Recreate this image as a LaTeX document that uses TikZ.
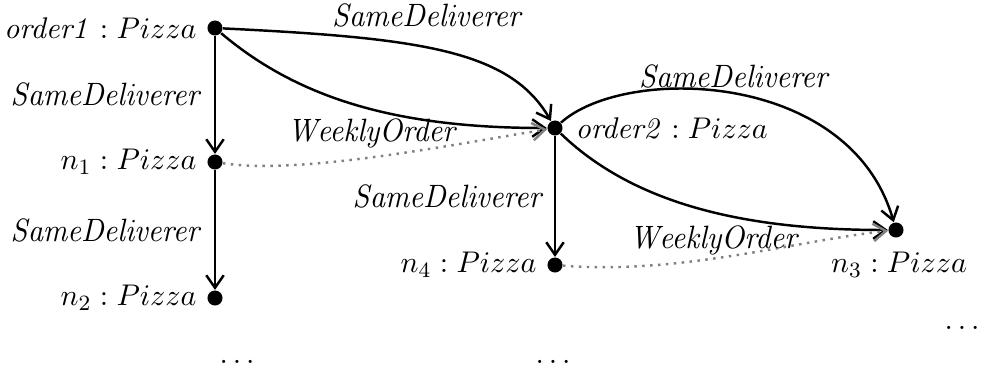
\documentclass[tikz,border=0pt]{standalone}
\usetikzlibrary{arrows.meta}
\newcommand{\nlab}[1]{{\fontsize{10.9pt}{13pt}\selectfont$#1$}}
\newcommand{\elab}[1]{\scalebox{1}[1.08]{\fontsize{11.3pt}{13pt}\selectfont$\mathit{#1}$}}
\begin{document}
\begin{tikzpicture}[x=0.01287cm,y=-0.01287cm,
  >={Straight Barb[length=4.6pt,width=6.4pt]},
  dot/.style={circle,fill=black,inner sep=0pt,minimum size=5.5pt},
  edge/.style={->,line width=0.9pt},
  weak/.style={->,gray,dotted,line width=0.9pt},
  lbl/.style={inner sep=0pt}]
\useasboundingbox (0,0) rectangle (981,374);
\node[dot] (o1) at (215,28) {};
\node[dot] (n1) at (215,162) {};
\node[dot] (n2) at (215,298) {};
\node[dot] (o2) at (555,128) {};
\node[dot] (n4) at (555,265) {};
\node[dot] (n3) at (896,230) {};
\node[lbl,anchor=east] (lo1) at (197,28) {\nlab{\mathit{order1} : Pizza}};
\node[lbl,anchor=east] (ln1) at (197,162) {\nlab{n_1 : Pizza}};
\node[lbl,anchor=east] (ln2) at (197,298) {\nlab{n_2 : Pizza}};
\node[lbl,anchor=west] (lo2) at (575,128) {\nlab{\mathit{order2} : Pizza}};
\node[lbl,anchor=east] (ln4) at (537,265) {\nlab{n_4 : Pizza}};
\node[lbl] (ln3) at (899,265) {\nlab{n_3 : Pizza}};
\draw[edge] (o1) -- (n1);
\draw[edge] (n1) -- (n2);
\draw[edge] (o2) -- (n4);
\draw[edge] (o1) .. controls (420,38) and (510,50) .. (o2);
\draw[edge] (o1) .. controls (300,100) and (400,128) .. (o2);
\draw[weak] (n1) .. controls (300,175) and (450,145) .. (o2);
\draw[edge] (o2) .. controls (625,65) and (850,70) .. (n3);
\draw[edge] (o2) .. controls (640,210) and (760,230) .. (n3);
\draw[weak] (n4) .. controls (680,275) and (800,240) .. (n3);
\node[lbl,anchor=east] (e1) at (203,94) {\elab{SameDeliverer}};
\node[lbl,anchor=east] (e2) at (203,230) {\elab{SameDeliverer}};
\node[lbl] (e3) at (428,15) {\elab{SameDeliverer}};
\node[lbl] (e4) at (373,133) {\elab{WeeklyOrder}};
\node[lbl,anchor=east] (e5) at (545,196) {\elab{SameDeliverer}};
\node[lbl] (e6) at (735,76) {\elab{SameDeliverer}};
\node[lbl] (e7) at (715,240) {\elab{WeeklyOrder}};
\node[lbl] (d1) at (237,362) {\nlab{\dots}};
\node[lbl] (d2) at (553,362) {\nlab{\dots}};
\node[lbl] (d3) at (962,328) {\nlab{\dots}};
\end{tikzpicture}
\end{document}
